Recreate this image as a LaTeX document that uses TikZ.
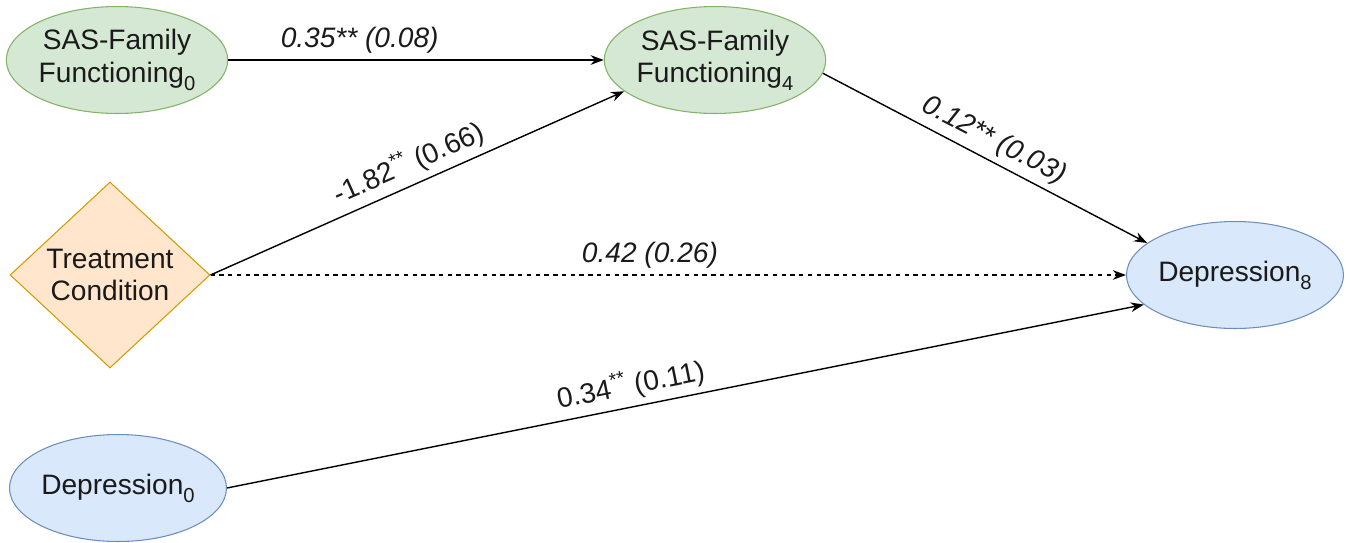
\documentclass[tikz,border=0pt]{standalone}
\usepackage{fontspec}
\setmainfont{Liberation Sans}
\usetikzlibrary{shapes.geometric,arrows.meta}
\definecolor{greenfill}{HTML}{D5E8D4}
\definecolor{greenline}{HTML}{82B366}
\definecolor{bluefill}{HTML}{DAE8FC}
\definecolor{blueline}{HTML}{6C8EBF}
\definecolor{orangefill}{HTML}{FFE6CC}
\definecolor{orangeline}{HTML}{D79B00}
\definecolor{ink}{HTML}{1A1A1A}
\newcommand{\lowidx}[1]{\raisebox{-0.28em}{\fontsize{11.5}{12}\selectfont #1}}
\tikzstyle{factor}=[ellipse,draw=greenline,fill=greenfill,line width=0.6pt,minimum width=4.25cm,minimum height=2.14cm,inner sep=0pt,align=center,text=ink,font=\fontsize{16}{18.5}\selectfont]
\tikzstyle{outcome}=[factor,draw=blueline,fill=bluefill]
\tikzstyle{group}=[diamond,draw=orangeline,fill=orangefill,line width=0.6pt,minimum width=4cm,minimum height=3.72cm,inner sep=0pt,align=center,text=ink,font=\fontsize{16}{18.5}\selectfont]
\tikzstyle{coef}=[text=ink,font=\fontsize{16}{18}\selectfont]
\tikzstyle{path}=[->,line width=0.8pt]

\begin{document}
\begin{tikzpicture}[x=0.02cm,y=-0.02cm,>={Stealth[length=7.5pt,width=5.5pt]}]
\useasboundingbox (0,0) rectangle (1350,542);
\node[factor] at (117, 60) (sas0) {SAS-Family\\Functioning\lowidx{0}};
\node[factor] at (715, 60) (sas4) {SAS-Family\\Functioning\lowidx{4}};
\node[group] at (110, 275) (treat) {Treatment\\Condition};
\node[outcome] at (1235, 275) (dep8) {Depression\lowidx{8}};
\node[outcome] at (118, 488) (dep0) {Depression\lowidx{0}};
\draw[path] (sas0) -- node[pos=0.35, above, coef] {\itshape 0.35** (0.08)} (sas4);
\draw[path] (treat.east) -- node[sloped, above, coef] {-1.82\textsuperscript{**} (0.66)} (sas4.199);
\draw[path] (sas4.-7) -- node[sloped, above, coef] {\itshape 0.12** (0.03)} (dep8.160);
\draw[path,dash pattern=on 2.5pt off 2.5pt] (treat.east) -- node[pos=0.48, above, coef] {\itshape 0.42 (0.26)} (dep8.west);
\draw[path] (dep0.east) -- node[pos=0.445, sloped, above, coef] {0.34\textsuperscript{**} (0.11)} (dep8.198);
\end{tikzpicture}
\end{document}
